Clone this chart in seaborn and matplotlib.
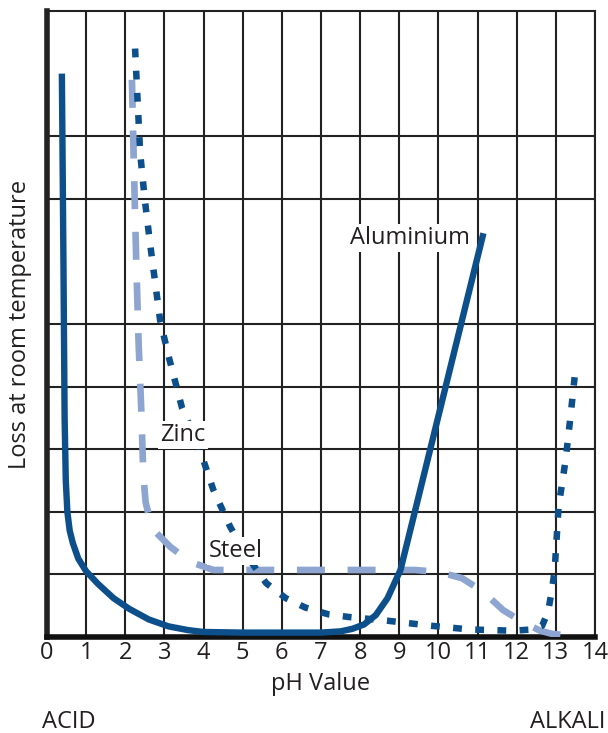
import numpy as np
import pandas as pd
import matplotlib
matplotlib.use("Agg")
import matplotlib.pyplot as plt
import seaborn as sns

# valores (pH, perdida relativa)
al_ph = [0.38, 0.42, 0.45, 0.48, 0.52, 0.58, 0.66, 0.8, 1.0, 1.3, 1.7, 2.1, 2.6,
         3.1, 3.6, 4.0, 5.0, 6.0, 7.0, 7.5, 7.8, 8.1, 8.4, 8.7, 9.03, 9.5, 10.0,
         10.5, 11.15]
al_loss = [9.0, 6.0, 3.5, 2.5, 2.0, 1.7, 1.5, 1.25, 1.05, 0.85, 0.62, 0.45, 0.28,
           0.17, 0.11, 0.08, 0.07, 0.07, 0.07, 0.09, 0.13, 0.2, 0.35, 0.62, 1.07,
           2.26, 3.53, 4.8, 6.45]

zn_ph = [2.25, 2.38, 2.5, 2.63, 2.89, 3.1, 3.45, 3.9, 4.25, 4.68, 5.1, 5.6, 6.1,
         6.6, 7.2, 7.7, 8.7, 9.8, 10.8, 11.9, 12.4, 12.65, 12.8, 12.9, 12.97,
         13.07, 13.25, 13.37, 13.48]
zn_loss = [9.4, 7.73, 6.98, 6.3, 5.06, 4.5, 3.66, 3.0, 2.35, 1.76, 1.3, 0.86,
           0.62, 0.47, 0.36, 0.32, 0.26, 0.18, 0.12, 0.1, 0.12, 0.18, 0.4, 0.75,
           1.07, 2.08, 2.83, 3.5, 4.15]

st_ph = [2.17, 2.22, 2.28, 2.34, 2.41, 2.46, 2.52, 2.62, 2.8, 3.15, 3.66, 4.25,
         5.0, 6.0, 7.0, 8.0, 9.0, 9.4, 10.0, 10.6, 11.15, 11.65, 12.15, 12.6,
         12.9, 13.2, 13.6]
st_loss = [8.9, 7.5, 6.0, 4.7, 3.6, 2.6, 2.15, 1.9, 1.66, 1.44, 1.2, 1.07, 1.07,
           1.07, 1.07, 1.07, 1.07, 1.07, 1.04, 0.94, 0.72, 0.43, 0.24, 0.1, 0.05,
           0.03, 0.0]

x_ticks = list(range(0, 15))
y_grid = [1, 2, 3, 4, 5, 7, 8]

sns.set_style("white")
plt.rcParams['font.family'] = ['Open Sans', 'DejaVu Sans']
TXT = '#231f20'
OSCURO = '#0d4f8b'
CLARO = '#8da5d0'
FS = 17

fig = plt.figure(figsize=(6.08, 7.33), dpi=100)
ax = fig.add_axes([0.0773, 0.131, 0.9013, 0.854])

df_al = pd.DataFrame({'ph': al_ph, 'loss': al_loss})
df_zn = pd.DataFrame({'ph': zn_ph, 'loss': zn_loss})
df_st = pd.DataFrame({'ph': st_ph, 'loss': st_loss})

sns.lineplot(data=df_st, x='ph', y='loss', sort=False, estimator=None, ax=ax,
             color=CLARO, linewidth=4.8, linestyle=(0, (4.2, 3.4)), zorder=3)
sns.lineplot(data=df_zn, x='ph', y='loss', sort=False, estimator=None, ax=ax,
             color=OSCURO, linewidth=4.7, linestyle=(0, (1.35, 2.05)), zorder=4)
sns.lineplot(data=df_al, x='ph', y='loss', sort=False, estimator=None, ax=ax,
             color=OSCURO, linewidth=4.6, solid_capstyle='butt', zorder=5)

ax.set_xlim(0, 14)
ax.set_ylim(0, 10)
ax.set_xticks(x_ticks)
ax.set_xticklabels([str(t) for t in x_ticks], fontsize=FS, color=TXT)
ax.set_yticks(y_grid)
ax.set_yticklabels([])
ax.tick_params(axis='both', length=0, pad=3)
ax.grid(True, color='#222222', linewidth=1.5, zorder=1)
ax.set_axisbelow(True)

for lado in ['top', 'right']:
    ax.spines[lado].set_color('#222222')
    ax.spines[lado].set_linewidth(1.5)
ax.spines['left'].set_color('#222222')
ax.spines['left'].set_linewidth(4)
ax.spines['bottom'].set_color('#111111')
ax.spines['bottom'].set_linewidth(4)

ax.set_xlabel('pH Value', fontsize=FS, color=TXT, labelpad=5)
ax.set_ylabel('Loss at room temperature', fontsize=FS, color=TXT, labelpad=8)

caja = dict(facecolor='white', edgecolor='none', pad=1.5)
ax.text(9.28, 6.37, 'Aluminium', fontsize=FS, color=TXT, ha='center',
        va='center', bbox=caja, zorder=6)
ax.text(3.48, 3.23, 'Zinc', fontsize=FS, color=TXT, ha='center', va='center',
        bbox=caja, zorder=6)
ax.text(4.83, 1.37, 'Steel', fontsize=FS, color=TXT, ha='center', va='center',
        bbox=caja, zorder=6)

fig.text(42 / 608, 1 - 722 / 733, 'ACID', fontsize=FS, color=TXT,
         ha='left', va='center')
fig.text(606 / 608, 1 - 722 / 733, 'ALKALI', fontsize=FS, color=TXT,
         ha='right', va='center')

fig.savefig('out.png', dpi=100)
